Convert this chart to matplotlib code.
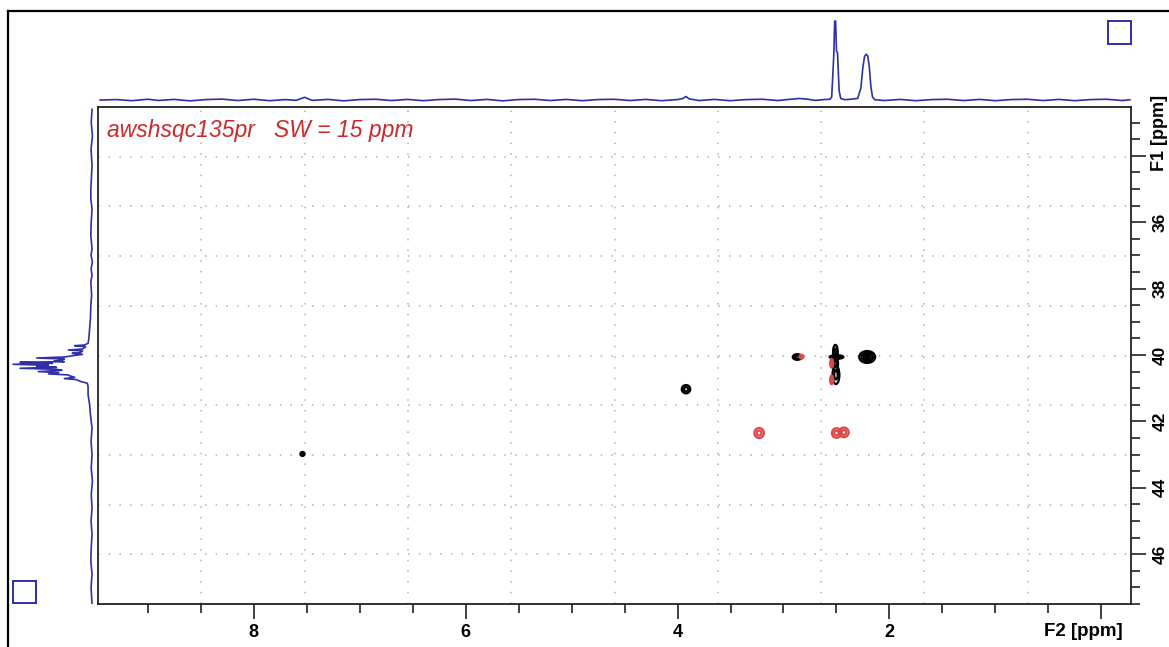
import matplotlib
matplotlib.use("Agg")
import matplotlib.pyplot as plt
from matplotlib.patches import Ellipse, Rectangle
from matplotlib.lines import Line2D
from matplotlib.ticker import FixedLocator, MultipleLocator, FixedFormatter

plt.rcParams['font.family'] = ['Liberation Sans', 'DejaVu Sans']

W, H, DPI = 1169, 647, 100

# spectral windows (ppm)
f2_lim = (9.47, -0.28)
f1_lim = (47.5, 32.53)

title = "awshsqc135pr   SW = 15 ppm"

# 1H projection (F2 ppm, relative intensity)
top_ppm = [9.45, 9.30, 9.15, 9.00, 8.90, 8.75, 8.60, 8.45, 8.30, 8.15, 8.00, 7.85,
           7.70, 7.60, 7.52, 7.45, 7.30, 7.15, 7.00, 6.85, 6.70, 6.55, 6.40, 6.25,
           6.10, 5.95, 5.80, 5.65, 5.50, 5.35, 5.20, 5.05, 4.90, 4.75, 4.60, 4.45,
           4.30, 4.15, 4.00, 3.95, 3.92, 3.89, 3.80, 3.65, 3.50, 3.35, 3.20, 3.05,
           2.95, 2.85, 2.78, 2.70, 2.62, 2.56, 2.545, 2.535, 2.525, 2.517, 2.508,
           2.500, 2.490, 2.475, 2.460, 2.42, 2.37, 2.30, 2.27, 2.25, 2.235, 2.22,
           2.205, 2.19, 2.175, 2.16, 2.14, 2.05, 1.90, 1.75, 1.60, 1.45, 1.30,
           1.15, 1.00, 0.85, 0.70, 0.55, 0.40, 0.25, 0.10, -0.05, -0.20, -0.27]
top_int = [0.000, 0.006, -0.008, 0.010, -0.005, 0.008, -0.010, 0.006, 0.012, -0.006,
           0.010, -0.008, 0.006, -0.004, 0.035, -0.004, 0.008, -0.010, 0.006, 0.010,
           -0.006, 0.008, -0.008, 0.006, 0.012, -0.006, 0.008, -0.010, 0.006, 0.010,
           -0.006, 0.008, -0.008, 0.006, 0.010, -0.006, 0.008, -0.008, 0.006, 0.020,
           0.045, 0.015, -0.006, 0.008, -0.008, 0.006, 0.010, -0.006, 0.008, 0.020,
           0.012, -0.004, 0.006, 0.010, 0.040, 0.300, 0.580, 1.000, 1.000, 0.620,
           0.600, 0.120, 0.020, 0.004, 0.010, 0.020, 0.150, 0.420, 0.550, 0.580,
           0.560, 0.420, 0.170, 0.040, 0.005, -0.006, 0.008, -0.008, 0.006, 0.010,
           -0.006, 0.008, -0.008, 0.006, 0.010, -0.006, 0.008, -0.008, 0.006, 0.010,
           -0.006, 0.004]

# 13C projection (F1 ppm, relative intensity)
left_ppm = [32.6, 33.0, 33.4, 33.8, 34.3, 35.0, 35.3, 35.6, 36.1, 36.4, 36.8, 37.0,
            37.2, 37.4, 37.6, 37.8, 38.2, 38.5, 38.9, 39.2, 39.5, 39.65, 39.70, 39.72,
            39.75, 39.82, 39.85, 39.88, 39.93, 39.95, 39.98, 40.06, 40.09, 40.12,
            40.16, 40.18, 40.20, 40.22, 40.25, 40.28, 40.31, 40.34, 40.37, 40.40,
            40.43, 40.46, 40.50, 40.53, 40.57, 40.60, 40.63, 40.67, 40.71, 40.74,
            40.80, 40.85, 40.95, 41.2, 41.5, 41.8, 42.2, 42.6, 43.0, 43.4, 43.8,
            44.2, 44.6, 45.0, 45.4, 45.8, 46.2, 46.6, 47.0, 47.5]
left_int = [0.000, 0.010, -0.005, 0.012, 0.000, 0.015, 0.015, 0.000, 0.012, 0.015,
            0.000, 0.012, -0.005, 0.012, 0.000, 0.015, 0.005, 0.015, 0.020, 0.030,
            0.040, 0.050, 0.100, 0.220, 0.080, 0.120, 0.300, 0.120, 0.150, 0.250,
            0.120, 0.350, 0.700, 0.350, 0.400, 0.480, 0.350, 0.910, 0.500, 1.000,
            0.550, 0.700, 0.450, 0.910, 0.450, 0.380, 0.680, 0.420, 0.550, 0.300,
            0.280, 0.220, 0.350, 0.200, 0.140, 0.060, 0.050, 0.050, 0.030, 0.020,
            0.000, 0.012, 0.000, 0.010, -0.005, 0.010, 0.000, 0.012, 0.000, 0.010,
            0.015, 0.000, 0.012, 0.000]

# positive cross peaks: F2, F1, width F2, width F1
pos_f2 = [3.92, 2.87, 2.51, 2.51, 2.505, 2.50, 2.21, 7.54]
pos_f1 = [41.03, 40.06, 39.92, 40.26, 40.60, 40.06, 40.06, 42.98]
pos_w2 = [0.080, 0.085, 0.045, 0.050, 0.065, 0.130, 0.150, 0.040]
pos_w1 = [0.25, 0.17, 0.45, 0.45, 0.55, 0.11, 0.36, 0.12]

# negative cross peaks
neg_f2 = [3.23, 2.50, 2.43, 2.545, 2.545, 2.83]
neg_f1 = [42.35, 42.35, 42.33, 40.25, 40.75, 40.05]
neg_w2 = [0.090, 0.085, 0.090, 0.028, 0.028, 0.038]
neg_w1 = [0.30, 0.29, 0.29, 0.26, 0.26, 0.11]

x_major = [8, 6, 4, 2, 0]
x_labels = ['8', '6', '4', '2', '']
y_major = [34, 36, 38, 40, 42, 44, 46]
y_labels = ['', '36', '38', '40', '42', '44', '46']

blue = '#2f2fa8'
red_txt = '#cc2a2a'
red_ct = '#dd4646'


def px_box(left, top, right, bottom):
    return [left / W, 1 - bottom / H, (right - left) / W, (bottom - top) / H]


def draw_peak(axis, f2, f1, w2, w1, color):
    # bigger peaks get more contour levels
    levels = [1.0, 0.72, 0.45, 0.2] if w2 > 0.1 else [1.0, 0.5]
    for s in levels:
        axis.add_patch(Ellipse((f2, f1), w2 * s, w1 * s, fill=False, ec=color, lw=1.6))


fig = plt.figure(figsize=(W / DPI, H / DPI), dpi=DPI)

ax = fig.add_axes(px_box(98, 107, 1131, 604))
ax_top = fig.add_axes(px_box(98, 14, 1131, 104))
ax_left = fig.add_axes(px_box(8, 107, 97, 604))

# 2D contour map
for f2, f1, w2, w1 in zip(pos_f2, pos_f1, pos_w2, pos_w1):
    draw_peak(ax, f2, f1, w2, w1, 'black')
for f2, f1, w2, w1 in zip(neg_f2, neg_f1, neg_w2, neg_w1):
    draw_peak(ax, f2, f1, w2, w1, red_ct)

ax.set_xlim(*f2_lim)
ax.set_ylim(*f1_lim)

# dotted grid on tenths of the frame
for k in range(1, 10):
    f = k / 10
    ax.plot([f, f], [0, 1], transform=ax.transAxes, color='#b0b0b0', lw=1.1,
            ls=(0, (1, 6)), zorder=0)
    ax.plot([0, 1], [f, f], transform=ax.transAxes, color='#b0b0b0', lw=1.1,
            ls=(0, (1, 6)), zorder=0)

for sp in ax.spines.values():
    sp.set_linewidth(1.3)
    sp.set_color('#222222')

ax.yaxis.tick_right()
ax.xaxis.set_major_locator(FixedLocator(x_major))
ax.xaxis.set_major_formatter(FixedFormatter(x_labels))
ax.xaxis.set_minor_locator(MultipleLocator(0.5))
ax.yaxis.set_major_locator(FixedLocator(y_major))
ax.yaxis.set_major_formatter(FixedFormatter(y_labels))
ax.yaxis.set_minor_locator(MultipleLocator(0.5))
ax.tick_params(which='major', direction='out', length=10.5, width=1.2, color='#222222')
ax.tick_params(which='minor', direction='out', length=6.5, width=1.2, color='#222222')
ax.tick_params(axis='x', which='major', labelsize=13, pad=4)
ax.tick_params(axis='y', which='major', labelsize=12.5, pad=5)
for lab in ax.get_xticklabels():
    lab.set_fontweight('bold')
for lab in ax.get_yticklabels():
    lab.set_fontweight('bold')
    lab.set_rotation(90)
    lab.set_va('center')

fig.text(107 / W, 1 - 131 / H, title, ha='left', va='center',
         color=red_txt, style='italic', fontsize=16.5)

fig.text(1083 / W, 1 - 631 / H, 'F2 [ppm]', ha='center', va='center',
         fontsize=13.5, fontweight='bold')
fig.text(1159 / W, 1 - 133 / H, 'F1 [ppm]', ha='center', va='center',
         rotation=90, fontsize=13, fontweight='bold')

# projections
ax_top.plot(top_ppm, top_int, color=blue, lw=1.2)
ax_top.set_xlim(*f2_lim)
ax_top.set_ylim(-0.05, 1.089)
ax_top.axis('off')

ax_left.plot(left_int, left_ppm, color=blue, lw=1.2)
ax_left.set_xlim(1.063, -0.063)
ax_left.set_ylim(*f1_lim)
ax_left.axis('off')

# outer frame and corner boxes
fig.add_artist(Line2D([8 / W, 1], [1 - 11 / H, 1 - 11 / H], color='black', lw=1.6))
fig.add_artist(Line2D([8 / W, 8 / W], [0, 1 - 11 / H], color='black', lw=1.6))
fig.add_artist(Rectangle((1108 / W, 1 - 44 / H), 23 / W, 23 / H, fill=False,
                         ec=blue, lw=1.4, transform=fig.transFigure))
fig.add_artist(Rectangle((13 / W, 1 - 603 / H), 23 / W, 22 / H, fill=False,
                         ec=blue, lw=1.4, transform=fig.transFigure))

fig.savefig('out.png', dpi=DPI)
